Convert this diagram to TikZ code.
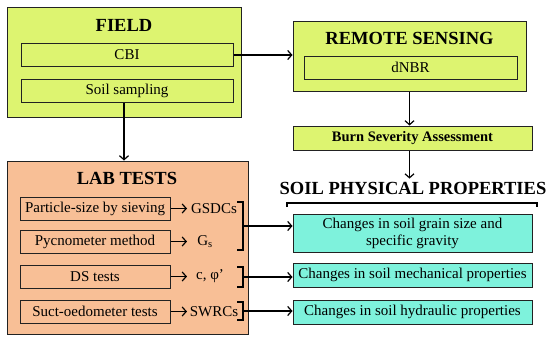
\documentclass[tikz,border=0pt]{standalone}
\usepackage{fontspec}
\setmainfont{Liberation Serif}
\usepackage{tikz}
\usetikzlibrary{arrows.meta, positioning}
\definecolor{sevLime}{HTML}{DDF470}
\definecolor{sevSalmon}{HTML}{F8BF96}
\definecolor{sevAqua}{HTML}{7EF2DC}
\definecolor{sevDark}{HTML}{222222}

\begin{document}
\begin{tikzpicture}[
  x=1pt, y=-1pt,
  outerbox/.style={
    rectangle, draw=sevDark, line width=1pt, inner sep=0pt,
  },
  innerbox/.style={
    rectangle, draw=sevDark, line width=1pt, inner sep=0pt,
    minimum height=23pt, font=\fontsize{15}{17}\selectfont,
  },
  headtext/.style={font=\fontsize{18.5}{20}\selectfont\bfseries, inner sep=0pt},
  outtext/.style={font=\fontsize{15}{17}\selectfont, inner sep=0pt},
  link/.style={-{Straight Barb[length=4pt, width=9pt]}, line width=1.2pt},
  bracket/.style={line width=1.2pt},
]
\useasboundingbox (0,0) rectangle (550,340);

% Field
\node[outerbox, fill=sevLime, minimum width=234pt, minimum height=110pt] (field) at (124,62) {};
\node[headtext] (field_title) at (124,25) {FIELD};
\node[innerbox, fill=sevLime, minimum width=212pt] (cbi) at (127,55) {CBI};
\node[innerbox, fill=sevLime, minimum width=212pt] (soil) at (127,91) {Soil sampling};

% Remote sensing
\node[outerbox, fill=sevLime, minimum width=233pt, minimum height=70pt] (remote) at (409.5,56) {};
\node[headtext] (remote_title) at (409.5,38) {REMOTE SENSING};
\node[innerbox, fill=sevLime, minimum width=213pt] (dnbr) at (410.5,67.5) {dNBR};
\node[innerbox, fill=sevLime, minimum width=239pt, minimum height=24pt,
  font=\fontsize{14.5}{16}\selectfont\bfseries] (burn) at (412.5,138) {Burn Severity Assessment};

% Lab tests
\node[outerbox, fill=sevSalmon, minimum width=241pt, minimum height=173pt] (lab) at (127.5,247.5) {};
\node[headtext] (lab_title) at (127,178) {LAB TESTS};
\node[innerbox, fill=sevSalmon, minimum width=150pt] (sieve) at (95,208.5) {Particle-size by sieving};
\node[innerbox, fill=sevSalmon, minimum width=150pt] (pycno) at (95,241.5) {Pycnometer method};
\node[innerbox, fill=sevSalmon, minimum width=150pt] (ds) at (95,276.5) {DS tests};
\node[innerbox, fill=sevSalmon, minimum width=150pt] (suct) at (95,311.5) {Suct-oedometer tests};

\node[outtext] (gsdc) at (214,208.5) {GSDCs};
\node[outtext] (gs) at (205,241.5) {G\textsubscript{s}};
\node[outtext] (cphi) at (210,276.5) {c, φ’};
\node[outtext] (swrc) at (214,311.5) {SWRCs};
\coordinate (tipx) at (187,0);

\draw[link] (sieve.east) -- (sieve.east -| tipx);
\draw[link] (pycno.east) -- (pycno.east -| tipx);
\draw[link] (ds.east) -- (ds.east -| tipx);
\draw[link] (suct.east) -- (suct.east -| tipx);

% Soil physical properties
\node[headtext] (spp) at (413,188) {SOIL PHYSICAL PROPERTIES};
\draw[bracket] (287,207) -- (287,203) -- (537,203) -- (537,207);
\node[outerbox, fill=sevAqua, minimum width=239pt, minimum height=38pt, align=center,
  font=\fontsize{15}{17}\selectfont] (ch1) at (412.5,233) {Changes in soil grain size and\\specific gravity};
\node[outerbox, fill=sevAqua, minimum width=239pt, minimum height=24pt,
  font=\fontsize{15}{17}\selectfont] (ch2) at (412.5,275) {Changes in soil mechanical properties};
\node[outerbox, fill=sevAqua, minimum width=239pt, minimum height=24pt,
  font=\fontsize{15}{17}\selectfont] (ch3) at (412.5,312) {Changes in soil hydraulic properties};

% Brackets
\draw[bracket] (237,202) -| (243,250) -- (237,250);
\draw[bracket] (237,267) -| (243,287) -- (237,287);
\draw[bracket] (237,302) -| (243,320) -- (237,320);
\coordinate (br1) at (243,226);
\coordinate (br2) at (243,277);
\coordinate (br3) at (243,311);
\draw[link] (br1) -- (br1 -| ch1.west);
\draw[link] (br2) -- (br2 -| ch2.west);
\draw[link] (br3) -- (br3 -| ch3.west);

% Flow arrows
\draw[link] (cbi.east) -- (cbi.east -| remote.west);
\draw[link] (soil.south -| field.south) -- (lab.north -| field.south);
\draw[link] (remote.south) -- (remote.south |- burn.north);
\draw[link, shorten >=3pt] (burn.south -| remote.south) -- (spp.north -| remote.south);

\end{tikzpicture}
\end{document}
